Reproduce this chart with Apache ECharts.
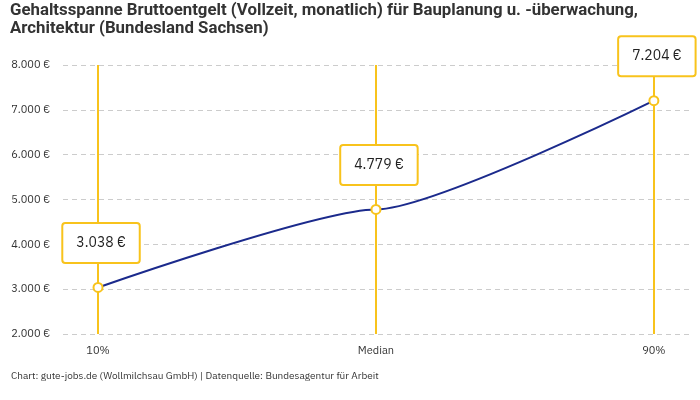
<!DOCTYPE html>
<html><head><meta charset="utf-8">
<script src="https://cdn.jsdelivr.net/npm/echarts@6/dist/echarts.min.js"></script>
<style>html,body{margin:0;padding:0;background:#fff}#c{width:700px;height:400px}</style>
</head><body><div id="c"></div>
<script>
const categories = ['10%', 'Median', '90%'];
const values = [3038, 4779, 7204];
const yTicks = [2000, 3000, 4000, 5000, 6000, 7000, 8000];
const titleLines = ['Gehaltsspanne Bruttoentgelt (Vollzeit, monatlich) für Bauplanung u. -überwachung,', 'Architektur (Bundesland Sachsen)'];
const footer = 'Chart: gute-jobs.de (Wollmilchsau GmbH) | Datenquelle: Bundesagentur für Arbeit';

const fmt = v => v.toLocaleString('de-DE') + ' €';
const font = '"IBM Plex Sans", "Noto Sans", sans-serif';
const titleFont = 'bold 17px Roboto, "Noto Sans", sans-serif';
const ctx = document.createElement('canvas').getContext('2d');
ctx.font = titleFont;
const titleScale = 628 / ctx.measureText(titleLines[0]).width;

const chart = echarts.init(document.getElementById('c'), null, {renderer: 'canvas'});
chart.setOption({
  animation: false,
  graphic: [{
    type: 'text', x: 10, y: 2, scaleX: titleScale,
    style: {text: titleLines.join('\n'), font: titleFont, lineHeight: 18, fill: '#333'}
  }, {
    type: 'text', left: 11, top: 371,
    style: {text: footer, fontFamily: font, fontSize: 10, fill: '#333'}
  }],
  grid: {left: 63, right: 10, top: 65, bottom: 66},
  xAxis: {
    type: 'value', min: -0.126, max: 2.13,
    axisLine: {show: false}, axisTick: {show: false}, splitLine: {show: false},
    axisLabel: {customValues: [0, 1, 2], formatter: v => categories[Math.round(v)], color: '#333', fontSize: 11, fontFamily: font, margin: 11}
  },
  yAxis: {
    type: 'value', min: yTicks[0], max: yTicks[yTicks.length - 1], interval: 1000,
    axisLine: {show: false}, axisTick: {show: false},
    splitLine: {lineStyle: {type: [5, 4], color: '#cccccc', width: 1}},
    axisLabel: {formatter: fmt, color: '#333', fontSize: 11, fontFamily: font, margin: 13}
  },
  series: [{
    type: 'line',
    data: values.map((v, i) => [i, v]),
    smooth: 0.2, smoothMonotone: 'x',
    lineStyle: {color: '#1b2a8c', width: 2},
    symbol: 'circle', symbolSize: 9,
    itemStyle: {color: '#fff', borderColor: '#f8c31c', borderWidth: 2},
    z: 5,
    label: {
      show: true, position: 'top', distance: 20, offset: [3, 0],
      formatter: p => fmt(p.value[1]),
      fontFamily: font, fontSize: 14, color: '#222',
      backgroundColor: '#fff', borderColor: '#f8c31c', borderWidth: 2, borderRadius: 2,
      padding: [12, 13]
    },
    markLine: {
      silent: true, symbol: 'none', z: 2,
      label: {show: false},
      lineStyle: {color: '#f8c31c', width: 2, type: 'solid'},
      data: categories.map((c, i) => ({xAxis: i}))
    }
  }]
});
</script></body></html>
